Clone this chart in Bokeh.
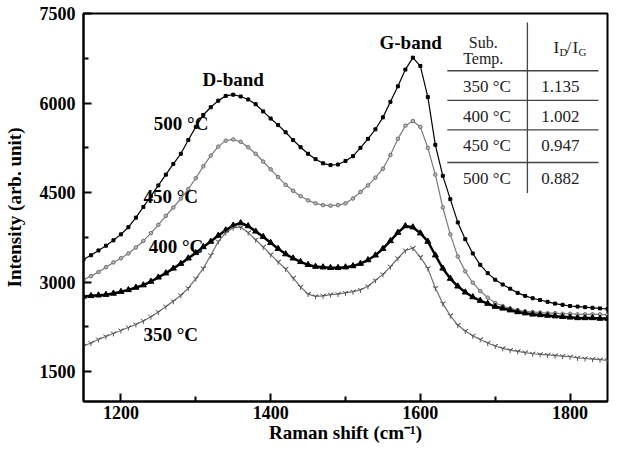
from bokeh.plotting import figure
from bokeh.models import Label, Range1d, FixedTicker
from bokeh.embed import file_html
from bokeh.resources import INLINE

raman_shift = [1150, 1160, 1170, 1180, 1190, 1200, 1210, 1220, 1230, 1240,
               1250, 1260, 1270, 1280, 1290, 1300, 1310, 1320, 1330, 1340,
               1350, 1360, 1370, 1380, 1390, 1400, 1410, 1420, 1430, 1440,
               1450, 1460, 1470, 1480, 1490, 1500, 1510, 1520, 1530, 1540,
               1550, 1560, 1570, 1580, 1590, 1600, 1610, 1620, 1630, 1640,
               1650, 1660, 1670, 1680, 1690, 1700, 1710, 1720, 1730, 1740,
               1750, 1760, 1770, 1780, 1790, 1800, 1810, 1820, 1830, 1840, 1850]

intensity_500 = [3380, 3450, 3530, 3610, 3700, 3800, 3920, 4080, 4260, 4440,
                 4620, 4800, 4980, 5150, 5380, 5600, 5800, 5930, 6040, 6120,
                 6140, 6110, 6060, 5980, 5860, 5740, 5630, 5510, 5380, 5260,
                 5150, 5060, 4990, 4960, 4970, 5030, 5110, 5250, 5400, 5560,
                 5760, 6020, 6280, 6560, 6760, 6620, 6100, 5300, 4780, 4390,
                 4000, 3720, 3480, 3290, 3150, 3040, 2960, 2890, 2820, 2770,
                 2730, 2700, 2670, 2640, 2620, 2600, 2590, 2580, 2570, 2560, 2550]

intensity_450 = [3040, 3100, 3170, 3250, 3330, 3400, 3480, 3580, 3690, 3820,
                 3960, 4110, 4250, 4400, 4560, 4740, 4940, 5120, 5270, 5370,
                 5390, 5350, 5260, 5150, 5020, 4890, 4760, 4630, 4530, 4440,
                 4370, 4320, 4290, 4280, 4290, 4320, 4400, 4510, 4620, 4750,
                 4900, 5130, 5400, 5620, 5700, 5600, 5250, 4800, 4250, 3800,
                 3430, 3180, 2990, 2850, 2740, 2650, 2600, 2560, 2530, 2510,
                 2500, 2490, 2480, 2480, 2470, 2470, 2460, 2460, 2460, 2460, 2450]

intensity_400 = [2760, 2770, 2780, 2790, 2810, 2840, 2870, 2910, 2950, 3010,
                 3080, 3150, 3230, 3310, 3400, 3490, 3590, 3680, 3780, 3870,
                 3950, 3990, 3940, 3850, 3760, 3660, 3560, 3470, 3400, 3340,
                 3290, 3260, 3250, 3240, 3240, 3250, 3270, 3310, 3370, 3450,
                 3560, 3690, 3830, 3940, 3920, 3820, 3680, 3450, 3230, 3060,
                 2930, 2830, 2750, 2690, 2640, 2590, 2560, 2530, 2500, 2480,
                 2460, 2450, 2440, 2430, 2420, 2410, 2400, 2400, 2400, 2390, 2390]

intensity_350 = [1930, 1980, 2040, 2090, 2140, 2190, 2240, 2290, 2350, 2420,
                 2500, 2590, 2680, 2780, 2900, 3060, 3230, 3450, 3680, 3830,
                 3910, 3920, 3830, 3710, 3590, 3460, 3340, 3220, 3070, 2920,
                 2800, 2760, 2770, 2790, 2800, 2820, 2840, 2870, 2930, 3030,
                 3130, 3260, 3400, 3530, 3570, 3420, 3230, 2900, 2640, 2440,
                 2280, 2180, 2100, 2040, 1980, 1930, 1890, 1860, 1840, 1820,
                 1800, 1790, 1780, 1770, 1760, 1750, 1730, 1720, 1710, 1700, 1690]

x_ticks = [1200, 1400, 1600, 1800]
x_minor_ticks = [1300, 1500, 1700]
y_ticks = [1500, 3000, 4500, 6000, 7500]
y_minor_ticks = [2250, 3750, 5250, 6750]

table_temps = ["350 \u00b0C", "400 \u00b0C", "450 \u00b0C", "500 \u00b0C"]
table_ratios = ["1.135", "1.002", "0.947", "0.882"]

SERIF = "Liberation Serif"

p = figure(width=609, height=445, output_backend="svg", toolbar_location=None,
           x_range=Range1d(1150, 1850), y_range=Range1d(1000, 7500),
           min_border_left=83, min_border_right=2, min_border_top=13, min_border_bottom=40)
p.background_fill_color = "white"
p.border_fill_color = "white"
p.grid.visible = False
p.outline_line_color = "black"
p.outline_line_width = 2

for ax in (p.xaxis[0], p.yaxis[0]):
    ax.axis_line_width = 2
    ax.axis_line_color = "black"
    ax.major_tick_in = 8
    ax.major_tick_out = 0
    ax.minor_tick_in = 5
    ax.minor_tick_out = 0
    ax.major_tick_line_width = 2
    ax.minor_tick_line_width = 2
    ax.major_label_text_font = SERIF
    ax.major_label_text_font_style = "bold"
    ax.major_label_text_font_size = "18px"
    ax.major_label_text_color = "black"
    ax.axis_label_text_font = SERIF
    ax.axis_label_text_font_style = "bold"
    ax.axis_label_text_font_size = "19px"
    ax.axis_label_text_color = "black"

p.xaxis.ticker = FixedTicker(ticks=x_ticks, minor_ticks=x_minor_ticks)
p.yaxis.ticker = FixedTicker(ticks=y_ticks, minor_ticks=y_minor_ticks)
p.xaxis.axis_label = "Raman shift (cm\u207b\u00b9)"
p.yaxis.axis_label = "Intensity (arb. unit)"
p.xaxis.major_label_standoff = 4
p.xaxis.axis_label_standoff = 0
p.yaxis.major_label_standoff = 8
p.yaxis.axis_label_standoff = 12

# spectra
p.line(raman_shift, intensity_500, line_color="black", line_width=1.2)
p.scatter(raman_shift, intensity_500, marker="square", size=3, color="black")
p.line(raman_shift, intensity_450, line_color="#7a7a7a", line_width=1.2)
p.scatter(raman_shift, intensity_450, marker="circle", size=3.5, line_color="#6a6a6a",
          fill_color="#bbbbbb")
p.line(raman_shift, intensity_400, line_color="black", line_width=2.5)
p.scatter(raman_shift, intensity_400, marker="triangle", size=6, color="black")
p.line(raman_shift, intensity_350, line_color="#6e6e6e", line_width=1.2)
p.scatter(raman_shift, intensity_350, marker="y", size=6, line_color="#555555", line_width=1)

def lab(x, y, t, size="19px", style="bold", align="left", base="middle", color="black",
        xo=0, yo=0):
    p.add_layout(Label(x=x, y=y, text=t, text_font=SERIF, text_font_size=size,
                       text_font_style=style, text_align=align, text_baseline=base,
                       text_color=color, x_offset=xo, y_offset=yo))

lab(1350, 6400, "D-band", align="center")
lab(1587, 7010, "G-band", align="center")
lab(1244, 5650, "500 \u00b0C")
lab(1230, 4440, "450 \u00b0C")
lab(1237, 3590, "400 \u00b0C")
lab(1230, 2130, "350 \u00b0C")

# inset table
tcol = "#222222"
p.segment(x0=[1636, 1636, 1636, 1636], y0=[6541, 6045, 5550, 5004],
          x1=[1838, 1838, 1838, 1838], y1=[6541, 6045, 5550, 5004],
          line_color="#444444", line_width=1.3)
p.segment(x0=[1743], y0=[7351], x1=[1743], y1=[4492], line_color="#444444", line_width=1.3)

lab(1684, 7010, "Sub.", size="16px", style="normal", align="center", color=tcol)
lab(1684, 6745, "Temp.", size="16px", style="normal", align="center", color=tcol)
# I_D / I_G header
lab(1778, 6930, "I", size="17px", style="normal", color=tcol)
lab(1778, 6930, "D", size="11px", style="normal", color=tcol, xo=6, yo=-4)
lab(1778, 6930, "/", size="17px", style="normal", color=tcol, xo=13)
lab(1778, 6930, "I", size="17px", style="normal", color=tcol, xo=19)
lab(1778, 6930, "G", size="11px", style="normal", color=tcol, xo=25, yo=-4)

row_y = [6277, 5781, 5285, 4740]
for t, r, yy in zip(table_temps, table_ratios, row_y):
    lab(1689, yy, t, size="17px", style="normal", align="center", color=tcol)
    lab(1787, yy, r, size="17px", style="normal", align="center", color=tcol)

open("out.html", "w").write(file_html(p, INLINE))
